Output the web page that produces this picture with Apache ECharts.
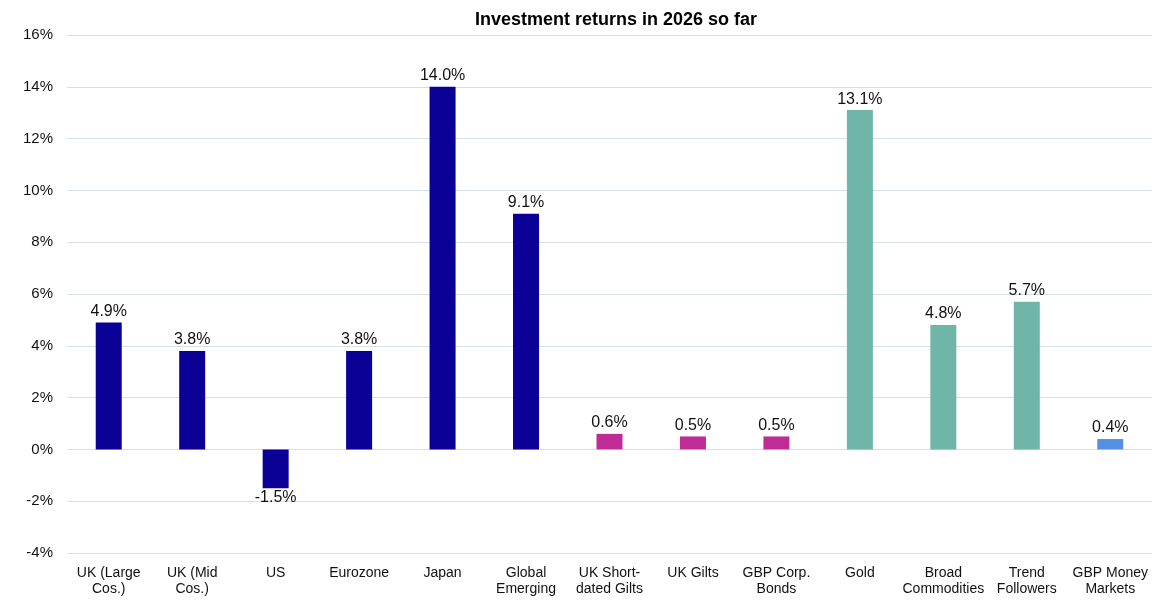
<!DOCTYPE html>
<html>
<head>
<meta charset="utf-8">
<script src="https://cdn.jsdelivr.net/npm/echarts@6/dist/echarts.min.js"></script>
<style>html,body{margin:0;padding:0;background:#fff}#c{width:1164px;height:610px}</style>
</head>
<body>
<div id="c"></div>
<script>
const categories = ["UK (Large\nCos.)","UK (Mid\nCos.)","US","Eurozone","Japan","Global\nEmerging","UK Short-\ndated Gilts","UK Gilts","GBP Corp.\nBonds","Gold","Broad\nCommodities","Trend\nFollowers","GBP Money\nMarkets"];
const returns = [4.9, 3.8, -1.5, 3.8, 14.0, 9.1, 0.6, 0.5, 0.5, 13.1, 4.8, 5.7, 0.4];
const groups = ["equity","equity","equity","equity","equity","equity","bond","bond","bond","alt","alt","alt","cash"];
const groupColors = {equity:"#0A0096", bond:"#C02C96", alt:"#6FB6A9", cash:"#5590E6"};
const yTicks = {min:-4, max:16, interval:2};

const chart = echarts.init(document.getElementById('c'));
const font = "Liberation Sans, Arial, sans-serif";
chart.setOption({
  animation:false,
  title:{text:"Investment returns in 2026 so far", left:470, top:6,
    textStyle:{fontFamily:font, fontSize:18, fontWeight:"bold", color:"#000"}},
  grid:{left:67, right:12, top:35, bottom:57, containLabel:false},
  xAxis:{type:"category", data:categories,
    axisLine:{show:false, onZero:false}, axisTick:{show:false},
    axisLabel:{interval:0, margin:12, fontFamily:font, fontSize:14, color:"#111", lineHeight:16}},
  yAxis:{type:"value", min:yTicks.min, max:yTicks.max, interval:yTicks.interval,
    axisLine:{show:false}, axisTick:{show:false},
    splitLine:{lineStyle:{color:"#D3E0E5", width:1}},
    axisLabel:{formatter:v=>v+"%", margin:14, fontFamily:font, fontSize:15, color:"#111"}},
  series:[{type:"bar", barWidth:26,
    data:returns.map((v,i)=>({value:v, itemStyle:{color:groupColors[groups[i]]},
      label:{position: v<0 ? "bottom" : "top", distance: v<0 ? 1 : 3}})),
    label:{show:true, formatter:p=>p.value.toFixed(1)+"%",
      fontFamily:font, fontSize:16, color:"#111"}}]
});
</script>
</body>
</html>
